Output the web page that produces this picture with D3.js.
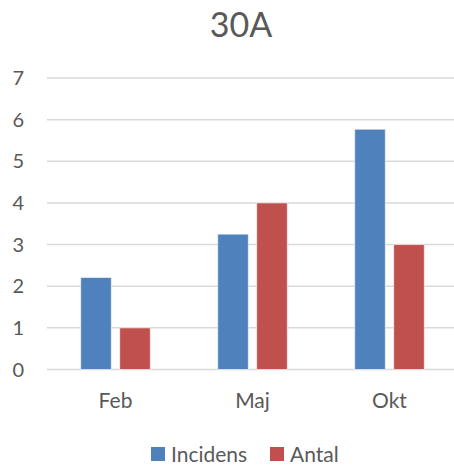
<!DOCTYPE html>
<html>
<head>
<meta charset="utf-8">
<script src="https://cdn.jsdelivr.net/npm/d3@7"></script>
<style>
  body { margin: 0; background: #fff; }
  svg { display: block; font-family: Lato, "Open Sans", sans-serif; }
</style>
</head>
<body>
<div id="chart"></div>
<script>
const w = 454;
const h = 466;

const categories = ["Feb", "Maj", "Okt"];
const seriesNames = ["Incidens", "Antal"];
const incidens = [2.21, 3.25, 5.77];
const antal = [1, 4, 3];
const yTicks = [0, 1, 2, 3, 4, 5, 6, 7];
const colors = ["#4F81BD", "#C0504D"];

const plotLeft = 47, plotRight = 458, plotTop = 78, plotBottom = 369.5;

const rows = categories.map((c, i) => ({ cat: c, values: [incidens[i], antal[i]] }));

const svg = d3.select("#chart")
  .append("svg")
  .attr("width", w)
  .attr("height", h);

const xScale = d3.scaleBand()
  .domain(categories)
  .range([plotLeft, plotRight]);

const xInner = d3.scaleBand()
  .domain(seriesNames)
  .range([33.7, xScale.bandwidth() - 33.7])
  .paddingInner(0.215);

const yScale = d3.scaleLinear()
  .domain([0, 7])
  .range([plotBottom, plotTop]);

// title
svg.append("text")
  .attr("x", 241)
  .attr("y", 37)
  .attr("text-anchor", "middle")
  .attr("fill", "#595959")
  .style("font-size", "34px")
  .text("30A");

// gridlines
svg.append("g")
  .selectAll("line")
  .data(yTicks)
  .enter()
  .append("line")
  .attr("x1", plotLeft)
  .attr("x2", w)
  .attr("y1", d => yScale(d))
  .attr("y2", d => yScale(d))
  .attr("stroke", "#D9D9D9")
  .attr("stroke-width", 1.5);

// y labels
svg.append("g")
  .selectAll("text")
  .data(yTicks)
  .enter()
  .append("text")
  .attr("x", 24)
  .attr("y", d => yScale(d) + 7)
  .attr("text-anchor", "end")
  .attr("fill", "#595959")
  .style("font-size", "20px")
  .text(d => d);

// bars
const groups = svg.append("g")
  .selectAll("g")
  .data(rows)
  .enter()
  .append("g")
  .attr("transform", d => "translate(" + xScale(d.cat) + ",0)");

groups.selectAll("rect")
  .data(d => d.values.map((v, j) => ({ name: seriesNames[j], v: v, j: j })))
  .enter()
  .append("rect")
  .attr("x", d => xInner(d.name))
  .attr("width", xInner.bandwidth())
  .attr("y", d => yScale(d.v))
  .attr("height", d => plotBottom - yScale(d.v))
  .attr("fill", d => colors[d.j])
  .attr("stroke", "#fff")
  .attr("stroke-opacity", 0.6)
  .attr("stroke-width", 1);

// x labels
svg.append("g")
  .selectAll("text")
  .data(categories)
  .enter()
  .append("text")
  .attr("x", d => xScale(d) + xScale.bandwidth() / 2)
  .attr("y", 408)
  .attr("text-anchor", "middle")
  .attr("fill", "#595959")
  .style("font-size", "21px")
  .text(d => d);

// legend
const legendX = [151, 270];
const legend = svg.append("g")
  .selectAll("g")
  .data(seriesNames)
  .enter()
  .append("g")
  .attr("transform", (d, i) => "translate(" + legendX[i] + ",447)");

legend.append("rect")
  .attr("width", 14)
  .attr("height", 14)
  .attr("fill", (d, i) => colors[i]);

legend.append("text")
  .attr("x", 20)
  .attr("y", 14.5)
  .attr("fill", "#595959")
  .style("font-size", "21px")
  .text(d => d);
</script>
</body>
</html>
